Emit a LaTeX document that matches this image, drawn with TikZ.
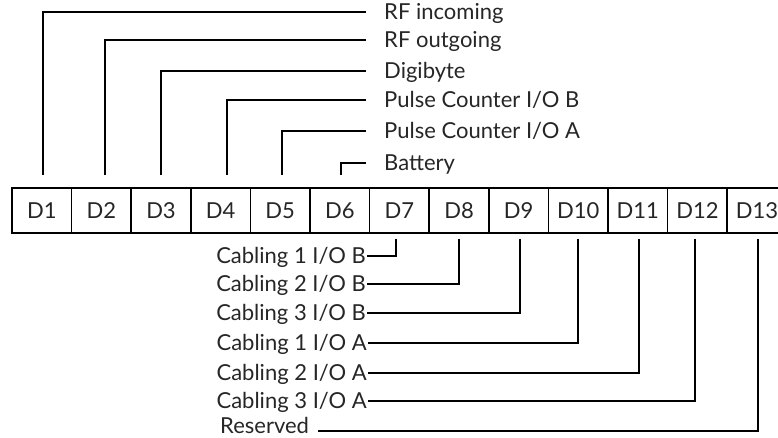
\documentclass[tikz,border=0pt]{standalone}
\usepackage{fontspec}
\setmainfont{Lato}
\begin{document}
\begin{tikzpicture}[x=1pt,y=1pt,
  font=\fontsize{22}{26}\selectfont,
  txt/.style={text=black!85, text height=19pt, text depth=3.2pt},
  cell/.style={draw, line width=1.7pt, minimum width=59.6pt, minimum height=45pt, inner sep=0pt, outer sep=0pt, txt},
  toplab/.style={txt, anchor=west, inner xsep=18pt, inner ysep=0pt},
  botlab/.style={txt, anchor=east, inner xsep=1pt, inner ysep=0pt},
  conn/.style={line width=1.7pt}]
\useasboundingbox (0,0) rectangle (778,438);
\clip (0,0) rectangle (778,438);
% cells
\foreach \i in {1,...,13} {
  \node[cell] (d\i) at ({12+59.6*(\i-0.5)},227.5) {D\i};
}
% top labels
\node[toplab] (t1) at (366,426) {RF incoming};
\node[toplab] (t2) at (366,398) {RF outgoing};
\node[toplab] (t3) at (366,367) {Digibyte};
\node[toplab] (t4) at (366,338) {Pulse Counter I/O B};
\node[toplab] (t5) at (366,307) {Pulse Counter I/O A};
\node[toplab] (t6) at (366,275) {Battery};
% top connector ends
\coordinate (u1) at (43,263);
\coordinate (u2) at (105,263);
\coordinate (u3) at (161,263);
\coordinate (u4) at (227,263);
\coordinate (u5) at (282,263);
\coordinate (u6) at (341,263);
\foreach \i in {1,...,6} { \draw[conn] (u\i) |- (t\i.west); }
% bottom labels
\node[botlab] (b7) at (367,182) {Cabling 1 I/O B};
\node[botlab] (b8) at (367,154) {Cabling 2 I/O B};
\node[botlab] (b9) at (367,125) {Cabling 3 I/O B};
\node[botlab] (b10) at (368,95) {Cabling 1 I/O A};
\node[botlab] (b11) at (368,65) {Cabling 2 I/O A};
\node[botlab] (b12) at (368,37) {Cabling 3 I/O A};
\node[txt, text height=15.8pt, text depth=0pt, anchor=west, text width=95pt, align=left, inner xsep=3pt, inner ysep=0pt] (b13) at (217,12) {Reserved};
% bottom connector ends
\coordinate (v7) at (396,199);
\coordinate (v8) at (459,199);
\coordinate (v9) at (520,199);
\coordinate (v10) at (578,199);
\coordinate (v11) at (639,199);
\coordinate (v12) at (695,199);
\coordinate (v13) at (758,199);
\foreach \i in {7,...,12} { \draw[conn] (v\i) |- (b\i.east); }
\draw[conn] (v13) |- ([yshift=-5pt]b13.east);
\end{tikzpicture}
\end{document}
